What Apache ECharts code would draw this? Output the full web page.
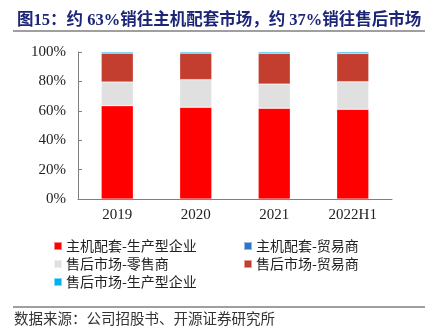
<!DOCTYPE html>
<html>
<head>
<meta charset="utf-8">
<script src="https://cdn.jsdelivr.net/npm/echarts@6/dist/echarts.min.js"></script>
<style>
html,body{margin:0;padding:0;background:#fff;}
#chart{width:439px;height:333px;}
</style>
</head>
<body>
<div id="chart"></div>
<script>
// Sales channel mix, share of revenue (%)
const categories = ['2019', '2020', '2021', '2022H1'];
const seriesNames = ['主机配套-生产型企业', '主机配套-贸易商', '售后市场-零售商', '售后市场-贸易商', '售后市场-生产型企业'];
const oemProducers   = [63.5, 62.4, 61.7, 61.0];
const oemTraders     = [0.1, 0.1, 0.1, 0.1];
const aftRetailers   = [16.0, 18.7, 16.4, 18.7];
const aftTraders     = [19.6, 18.0, 20.9, 19.2];
const aftProducers   = [0.8, 0.8, 0.9, 1.0];
const yTicks = [0, 20, 40, 60, 80, 100];

const colors = ['#FF0000', '#2E75C8', '#E0E0E0', '#C43E2F', '#00B0F0'];
const values = [oemProducers, oemTraders, aftRetailers, aftTraders, aftProducers];

const latin = "'Liberation Serif', 'Times New Roman', serif";
const cjk = "'Liberation Serif', 'Noto Sans CJK SC', serif";

const legendText = {fontFamily: "'Noto Sans CJK SC'", fontSize: 14, color: '#222', padding: [0, 0, 0, -1]};

const chart = echarts.init(document.getElementById('chart'), null, {renderer: 'canvas'});
chart.setOption({
  animation: false,
  backgroundColor: '#fff',
  title: {
    text: '图15：约 63%销往主机配套市场，约 37%销往售后市场',
    left: 12, top: 7,
    textStyle: {fontFamily: cjk, fontSize: 16.5, fontWeight: 'bold', color: '#1C2576'}
  },
  graphic: [
    {type: 'line', shape: {x1: 13, y1: 31, x2: 425, y2: 31}, style: {stroke: '#7F7F7F', lineWidth: 1.5}},
    {type: 'line', shape: {x1: 13, y1: 307, x2: 425, y2: 307}, style: {stroke: '#7F7F7F', lineWidth: 1.5}},
    {type: 'text', left: 14, top: 311, style: {text: '数据来源：公司招股书、开源证券研究所', font: "14.5px 'Noto Sans CJK SC'", fill: '#333'}}
  ],
  legend: [
    {
      data: [seriesNames[0], seriesNames[2], seriesNames[4]],
      orient: 'vertical', left: 48, top: 234, itemGap: 4,
      itemWidth: 8, itemHeight: 8, icon: 'rect',
      textStyle: legendText
    },
    {
      data: [seriesNames[1], seriesNames[3]],
      orient: 'vertical', left: 238, top: 234, itemGap: 4,
      itemWidth: 8, itemHeight: 8, icon: 'rect',
      textStyle: legendText
    }
  ],
  grid: {left: 78, right: 47, top: 52, bottom: 134, containLabel: false},
  xAxis: {
    type: 'category',
    data: categories,
    axisLine: {lineStyle: {color: '#7F7F7F'}},
    axisTick: {inside: true, length: 4, lineStyle: {color: '#7F7F7F'}},
    axisLabel: {fontFamily: latin, fontSize: 15, color: '#222', margin: 9}
  },
  yAxis: {
    type: 'value',
    min: yTicks[0], max: yTicks[yTicks.length - 1], interval: 20,
    axisLine: {show: true, lineStyle: {color: '#7F7F7F'}},
    axisTick: {show: true, inside: true, length: 4, lineStyle: {color: '#7F7F7F'}},
    splitLine: {show: false},
    axisLabel: {fontFamily: latin, fontSize: 15, color: '#222', margin: 12, formatter: '{value}%'}
  },
  series: seriesNames.map((name, i) => ({
    name: name,
    type: 'bar',
    stack: 'total',
    barWidth: 32,
    data: values[i],
    itemStyle: {color: colors[i], borderColor: 'rgba(255,255,255,0.5)', borderWidth: 0.5}
  }))
});
</script>
</body>
</html>
